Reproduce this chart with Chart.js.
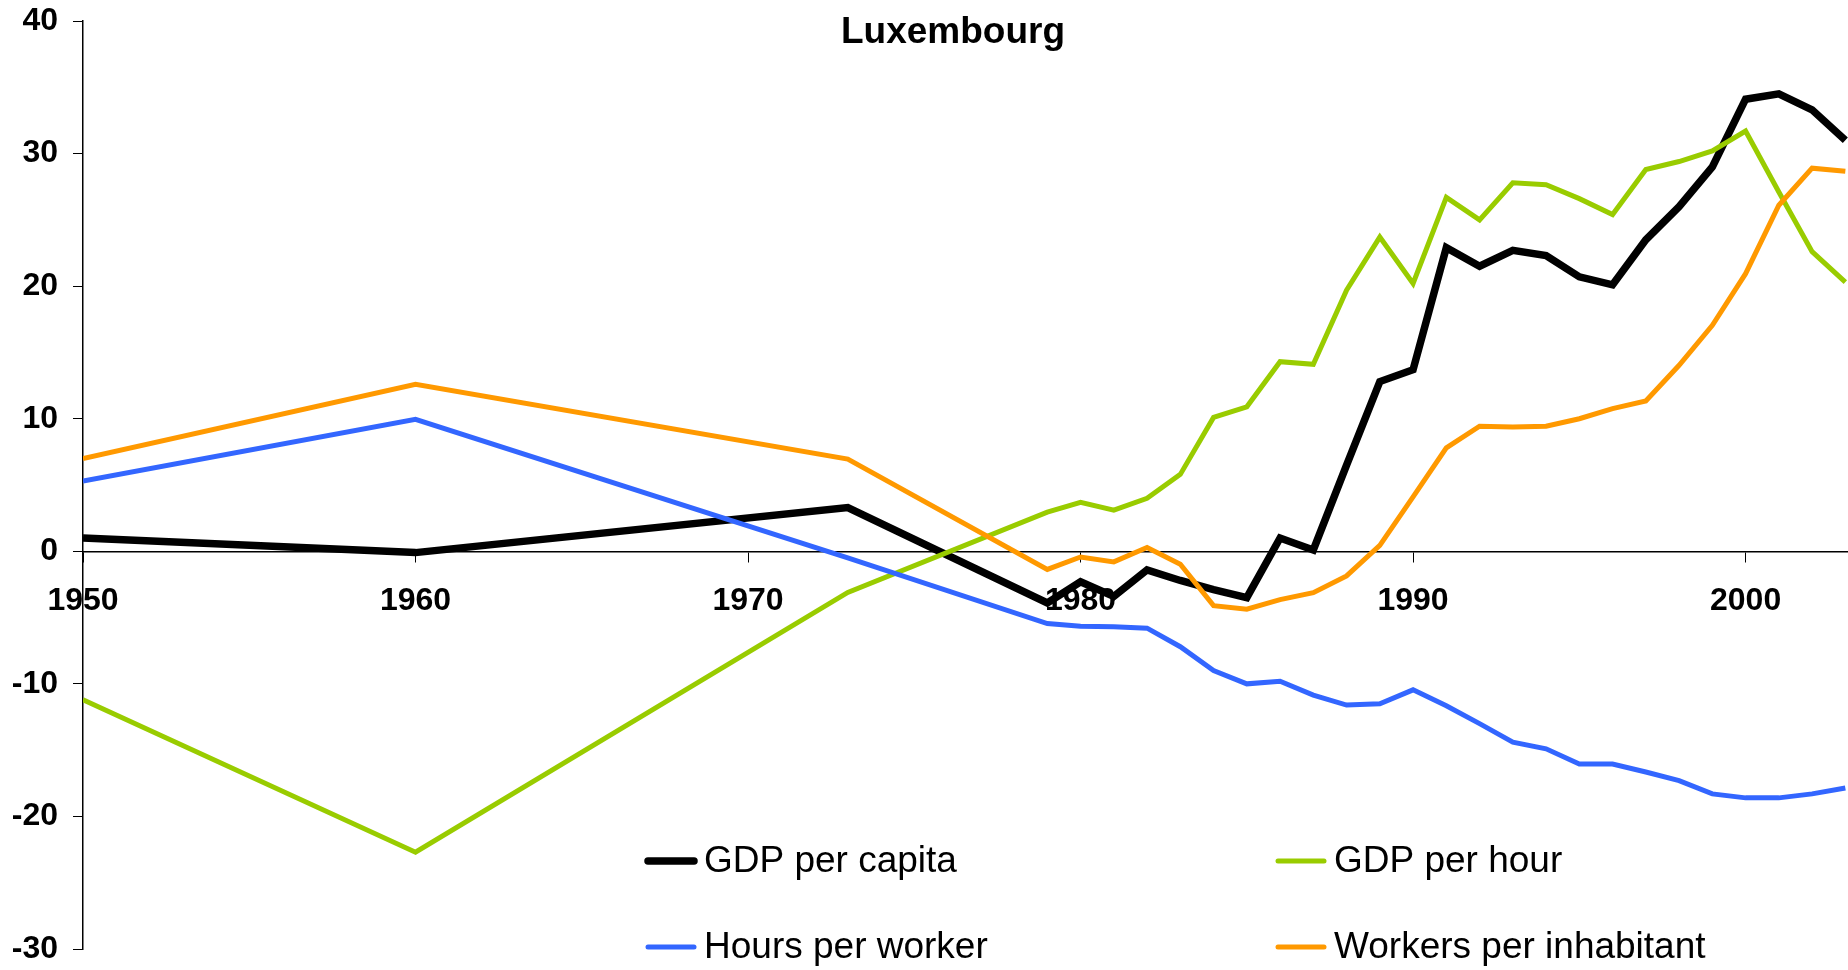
<!DOCTYPE html>
<html>
<head>
<meta charset="utf-8">
<title>Luxembourg</title>
<script src="https://cdn.jsdelivr.net/npm/chart.js@4/dist/chart.umd.min.js"></script>
<style>
    html, body { margin: 0; padding: 0; background: #fff; }
    #wrap { width: 1848px; height: 970px; }
</style>
</head>
<body>
<div id="wrap"><canvas id="chart" width="1848" height="970"></canvas></div>
<script>
// ========== DATA ==========
const years = [1950, 1960, 1973, 1979, 1980, 1981, 1982, 1983, 1984, 1985, 1986, 1987, 1988, 1989,
    1990, 1991, 1992, 1993, 1994, 1995, 1996, 1997, 1998, 1999, 2000, 2001, 2002, 2003];

const gdpPerCapita = [1.0, -0.1, 3.3, -3.9, -2.3, -3.4, -1.4, -2.2, -2.9, -3.5, 1.0, 0.1, 6.5, 12.8,
    13.7, 22.9, 21.5, 22.7, 22.3, 20.7, 20.1, 23.5, 26.0, 29.0, 34.1, 34.5, 33.3, 31.0];

const gdpPerHour = [-11.2, -22.7, -3.1, 2.95, 3.7, 3.1, 4.0, 5.8, 10.1, 10.9, 14.3, 14.1, 19.7, 23.7,
    20.2, 26.7, 25.0, 27.8, 27.65, 26.6, 25.4, 28.8, 29.4, 30.2, 31.7, 27.1, 22.6, 20.3];

const hoursPerWorker = [5.3, 9.95, -0.5, -5.45, -5.65, -5.7, -5.8, -7.2, -9.0, -10.0, -9.8, -10.85, -11.6, -11.5,
    -10.45, -11.65, -13.0, -14.4, -14.9, -16.05, -16.05, -16.65, -17.3, -18.3, -18.6, -18.6, -18.3, -17.85];

const workersPerInhabitant = [7.0, 12.6, 6.95, -1.37, -0.43, -0.8, 0.28, -0.98, -4.1, -4.37, -3.65, -3.12, -1.86, 0.45,
    4.1, 7.8, 9.43, 9.38, 9.43, 10.0, 10.76, 11.34, 14.03, 17.04, 20.94, 26.1, 28.9, 28.66];

const xTicks = [1950, 1960, 1970, 1980, 1990, 2000];
const yTicks = [-30, -20, -10, 0, 10, 20, 30, 40];

const FONT = "'Liberation Sans', Arial, Helvetica, sans-serif";

function toPoints(values) {
    return values.map((v, i) => ({ x: years[i], y: v }));
}

// ========== PLUGINS ==========
// Title sits slightly right of canvas centre, as in the original
const titlePlugin = {
    id: 'luxTitle',
    afterDraw(chart) {
        const ctx = chart.ctx;
        ctx.save();
        ctx.font = `bold 37px ${FONT}`;
        ctx.fillStyle = '#000';
        ctx.textAlign = 'center';
        ctx.textBaseline = 'alphabetic';
        ctx.fillText('Luxembourg', 953, 43);
        ctx.restore();
    },
};

// Two-column legend drawn inside the plot area (row-wise, like Excel)
const legendPlugin = {
    id: 'luxLegend',
    afterDraw(chart) {
        const ctx = chart.ctx;
        const cols = [646, 1276];
        const rows = [861, 947];
        ctx.save();
        ctx.font = `37px ${FONT}`;
        ctx.textBaseline = 'middle';
        ctx.textAlign = 'left';
        chart.data.datasets.forEach((ds, i) => {
            const x = cols[i % 2];
            const y = rows[Math.floor(i / 2)];
            ctx.strokeStyle = ds.borderColor;
            ctx.lineWidth = ds.borderWidth;
            ctx.lineCap = 'round';
            ctx.beginPath();
            ctx.moveTo(x + 2, y);
            ctx.lineTo(x + 48, y);
            ctx.stroke();
            ctx.fillStyle = '#000';
            ctx.fillText(ds.label, x + 58, y + 1);
        });
        ctx.restore();
    },
};

// ========== CHART ==========
const chart = new Chart(document.getElementById('chart'), {
    type: 'line',
    data: {
        datasets: [
            { label: 'GDP per capita', data: toPoints(gdpPerCapita), borderColor: '#000000', borderWidth: 7.5, order: 3 },
            { label: 'GDP per hour', data: toPoints(gdpPerHour), borderColor: '#99cc00', borderWidth: 5, order: 2 },
            { label: 'Hours per worker', data: toPoints(hoursPerWorker), borderColor: '#3366ff', borderWidth: 5, order: 1 },
            { label: 'Workers per inhabitant', data: toPoints(workersPerInhabitant), borderColor: '#ff9900', borderWidth: 5, order: 0 },
        ],
    },
    options: {
        responsive: false,
        animation: false,
        devicePixelRatio: 1,
        layout: { padding: { top: 21, bottom: 21, left: 0, right: 0 } },
        elements: {
            point: { radius: 0, hoverRadius: 0 },
            line: { tension: 0, fill: false, borderJoinStyle: 'miter', borderCapStyle: 'butt' },
        },
        plugins: {
            legend: { display: false },
            title: { display: false },
            tooltip: { enabled: false },
        },
        scales: {
            x: {
                type: 'linear',
                position: { y: 0 },
                min: 1950,
                max: 2003.08,
                afterBuildTicks: scale => { scale.ticks = xTicks.map(v => ({ value: v })); },
                ticks: {
                    color: '#000',
                    font: { family: FONT, size: 32, weight: 'bold' },
                    padding: 21,
                    maxRotation: 0,
                    autoSkip: false,
                    callback: value => String(value),
                },
                grid: { drawOnChartArea: false, drawTicks: true, tickLength: 10, color: '#000', lineWidth: 1 },
                border: { display: true, color: '#000', width: 1.5 },
            },
            y: {
                min: -30,
                max: 40,
                afterBuildTicks: scale => { scale.ticks = yTicks.map(v => ({ value: v })); },
                afterFit: scale => {
                    scale.width = 83;
                    scale.paddingTop = 21;
                    scale.paddingBottom = 21;
                },
                ticks: {
                    color: '#000',
                    font: { family: FONT, size: 32, weight: 'bold' },
                    padding: 15,
                },
                grid: { drawOnChartArea: false, drawTicks: true, tickLength: 10, color: '#000', lineWidth: 1 },
                border: { display: true, color: '#000', width: 1.5 },
            },
        },
    },
    plugins: [titlePlugin, legendPlugin],
});
</script>
</body>
</html>
